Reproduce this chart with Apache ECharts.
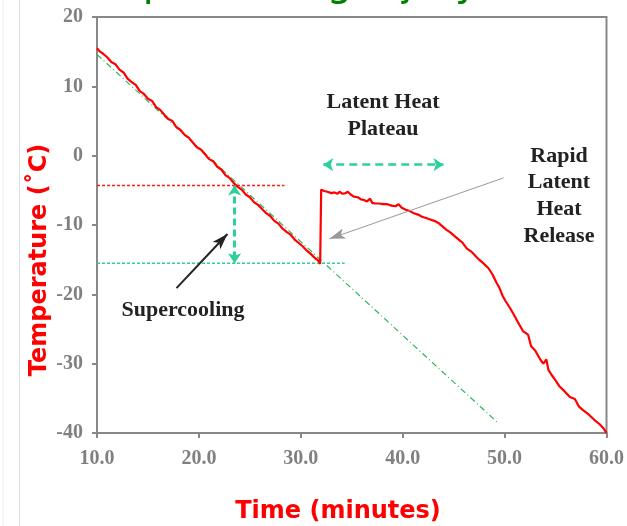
<!DOCTYPE html>
<html>
<head>
<meta charset="utf-8">
<script src="https://cdn.jsdelivr.net/npm/echarts@6/dist/echarts.min.js"></script>
<style>
html,body{margin:0;padding:0;background:#fff;}
#chart{width:627px;height:526px;}
</style>
</head>
<body>
<div id="chart"></div>
<script>
// ---- data ----
const timeMin = [10.0,10.3,10.6,11.0,11.4,11.8,12.2,12.6,13.0,13.4,13.8,14.2,14.6,15.0,15.4,15.8,16.2,16.6,17.0,17.4,17.8,18.2,18.6,19.0,19.4,19.8,20.2,20.6,21.0,21.4,21.8,22.2,22.6,23.0,23.4,23.8,24.2,24.6,25.0,25.4,25.8,26.2,26.6,27.0,27.4,27.8,28.2,28.6,29.0,29.4,29.8,30.2,30.6,31.0,31.4,31.7,31.9,32.0,32.3,32.6,33.0,33.3,33.6,33.8,34.1,34.4,34.6,34.9,35.2,35.6,35.9,36.2,36.5,36.8,37.0,37.3,37.7,38.1,38.5,38.9,39.3,39.6,39.9,40.3,40.7,41.1,41.5,41.9,42.3,42.7,43.1,43.5,43.9,44.3,44.7,45.1,45.5,45.9,46.3,46.7,47.1,47.5,47.9,48.4,48.8,49.2,49.5,49.8,50.1,50.5,50.9,51.3,51.8,52.3,52.6,53.0,53.5,53.8,54.1,54.3,54.6,55.0,55.4,55.9,56.4,56.9,57.3,57.7,58.3,58.8,59.3,59.7,60.0];
const tempC = [15.5,15.0,14.7,14.2,13.5,13.2,12.4,12.0,11.1,10.6,10.2,9.3,8.9,8.2,7.9,7.0,6.6,5.9,5.3,5.0,4.1,3.7,3.0,2.6,1.9,1.2,0.9,0.2,-0.5,-0.8,-1.6,-2.0,-2.8,-3.2,-3.9,-4.5,-4.9,-5.6,-6.0,-6.7,-7.1,-7.7,-8.3,-8.7,-9.4,-9.8,-10.5,-11.0,-11.4,-12.1,-12.6,-13.1,-13.7,-14.2,-14.8,-15.1,-15.6,-4.9,-5.1,-5.2,-5.4,-5.3,-5.5,-5.2,-5.5,-5.4,-5.2,-5.6,-5.9,-6.0,-6.3,-6.4,-6.6,-6.2,-6.8,-6.9,-6.9,-7.0,-7.0,-7.2,-7.3,-7.0,-7.5,-7.8,-8.0,-8.3,-8.5,-8.8,-9.0,-9.2,-9.4,-9.7,-10.2,-10.7,-11.1,-11.6,-12.1,-12.6,-13.4,-13.8,-14.4,-15.0,-15.5,-16.2,-17.1,-18.3,-19.1,-20.2,-21.0,-21.9,-22.9,-24.0,-25.3,-25.8,-27.5,-28.1,-29.4,-30.0,-29.4,-30.9,-31.6,-32.4,-33.3,-34.0,-34.8,-35.1,-36.2,-36.7,-37.4,-38.1,-38.7,-39.3,-40.0];
// extrapolated cooling line (time, temp)
const extrapTime = [10.0, 49.4];
const extrapTemp = [14.6, -38.6];
// reference levels
const supercoolTemp = -4.3;      // red dotted level
const supercoolLineEnd = 28.4;
const nucleationTemp = -15.5;    // green dotted level
const nucleationLineEnd = 34.3;
const supercoolArrowTime = 23.5;
const plateauArrowTemp = -1.3;
const plateauArrowStart = 32.2;
const plateauArrowEnd = 44.0;
// annotation pointer arrows [time, temp]
const supercoolPointerFrom = [17.8, -19.1];
const supercoolPointerTo = [22.8, -11.3];
const releasePointerFrom = [49.9, -3.2];
const releasePointerTo = [32.8, -12.0];
const xTicks = [10, 20, 30, 40, 50, 60];
const yTicks = [-40, -30, -20, -10, 0, 10, 20];

const chart = echarts.init(document.getElementById('chart'));
const tickFont = {color:'#808080', fontFamily:'Liberation Serif', fontWeight:'bold', fontSize:20};
const teal = '#2dcf9e';
const annFont = 'bold 22px "Liberation Serif"';

const option = {
  animation:false,
  grid:{left:97, top:17, width:510, height:416, show:true, borderColor:'#888', borderWidth:2, backgroundColor:'#fff'},
  xAxis:{type:'value', min:xTicks[0], max:xTicks[xTicks.length-1], interval:10,
    axisLine:{show:true, onZero:false, lineStyle:{color:'#888', width:2}},
    axisTick:{show:true, length:5, lineStyle:{color:'#888', width:2}},
    splitLine:{show:false},
    axisLabel:Object.assign({margin:16, formatter:v=>v.toFixed(1)}, tickFont)},
  yAxis:{type:'value', min:yTicks[0], max:yTicks[yTicks.length-1], interval:10,
    axisLine:{show:true, onZero:false, lineStyle:{color:'#888', width:2}},
    axisTick:{show:true, length:5, lineStyle:{color:'#888', width:2}},
    splitLine:{show:false},
    axisLabel:Object.assign({margin:14, formatter:v=>String(v)}, tickFont)},
  series:[
    {type:'line', name:'extrap', color:'#2fb55e', data:extrapTime.map((t,i)=>[t,extrapTemp[i]]), symbol:'none', silent:true,
      lineStyle:{color:'#2fb55e', width:1.2, type:[6,3,1,3]}},
    {type:'line', name:'supercool', color:'#ff0000', data:[[xTicks[0],supercoolTemp],[supercoolLineEnd,supercoolTemp]], symbol:'none', silent:true,
      lineStyle:{color:'#ff1a1a', width:1.6, type:[3,2], opacity:1}},
    {type:'line', name:'nucleation', color:'#2fcf95', data:[[xTicks[0],nucleationTemp],[nucleationLineEnd,nucleationTemp]], symbol:'none', silent:true,
      lineStyle:{color:'#2fcf95', width:1.5, type:[3,2]},
      markLine:{silent:true, animation:false, label:{show:false}, symbol:['arrow','arrow'], symbolSize:[10,10],
        lineStyle:{color:teal, width:3, type:[7,4]},
        data:[
          [{coord:[supercoolArrowTime, supercoolTemp]},{coord:[supercoolArrowTime, nucleationTemp]}],
          [{coord:[plateauArrowStart, plateauArrowTemp], lineStyle:{width:2.5, type:[8,5], color:teal}},{coord:[plateauArrowEnd, plateauArrowTemp]}]
        ]}},
    {type:'line', name:'temp', color:'#ff0000', data:timeMin.map((t,i)=>[t,tempC[i]]), symbol:'none', silent:true,
      lineStyle:{color:'#ff0000', width:2.2},
      markLine:{silent:true, animation:false, label:{show:false}, symbol:['none','arrow'],
        data:[
          [{coord:supercoolPointerFrom, symbolSize:[10,11], lineStyle:{color:'#222', width:2, type:'solid'}},{coord:supercoolPointerTo}],
          [{coord:releasePointerFrom, symbolSize:[6,9], lineStyle:{color:'#999', width:1, type:'solid'}},{coord:releasePointerTo}]
        ]}}
  ],
  graphic:[
    {type:'line', shape:{x1:3,y1:0,x2:3,y2:526}, style:{stroke:'#eeeeee', lineWidth:1}, silent:true},
    {type:'line', shape:{x1:19.5,y1:0,x2:19.5,y2:526}, style:{stroke:'#dddddd', lineWidth:1}, silent:true},
    {type:'text', x:92, y:-15, silent:true,
      style:{text:'Supercooling Injury', font:'40px "DejaVu Sans"', fill:'#008000', textAlign:'left', textVerticalAlign:'middle'}},
    {type:'text', x:40, y:260, rotation:Math.PI/2, silent:true,
      style:{text:'Temperature (˚C)', font:'bold 24px "DejaVu Sans"', fill:'#ff0000', textAlign:'center', textVerticalAlign:'middle'}},
    {type:'text', x:338, y:512, silent:true,
      style:{text:'Time (minutes)', font:'bold 24px "DejaVu Sans"', fill:'#ff0000', textAlign:'center', textVerticalAlign:'middle'}},
    {type:'text', x:383, y:115.5, silent:true,
      style:{text:'Latent Heat\nPlateau', font:annFont, lineHeight:27, fill:'#222', textAlign:'center', textVerticalAlign:'middle'}},
    {type:'text', x:559, y:196, silent:true,
      style:{text:'Rapid\nLatent\nHeat\nRelease', font:annFont, lineHeight:26.7, fill:'#222', textAlign:'center', textVerticalAlign:'middle'}},
    {type:'text', x:183, y:310, silent:true,
      style:{text:'Supercooling', font:annFont, fill:'#222', textAlign:'center', textVerticalAlign:'middle'}}
  ]
};
chart.setOption(option);
</script>
</body>
</html>
